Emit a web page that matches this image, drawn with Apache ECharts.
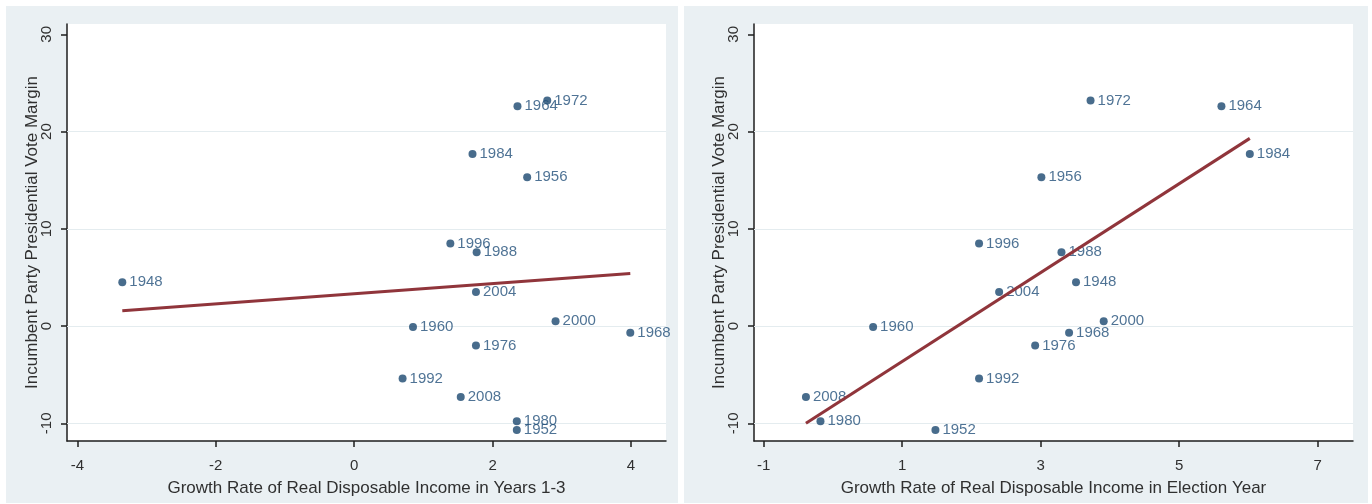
<!DOCTYPE html>
<html><head><meta charset="utf-8">
<script src="https://cdn.jsdelivr.net/npm/echarts@6/dist/echarts.min.js"></script>
<style>
html,body{margin:0;padding:0;background:#fff;width:1372px;height:504px;overflow:hidden;}
.panel{position:absolute;top:6px;height:497px;background:#eaf0f3;}
#p1{left:6px;width:672px;}
#p2{left:684px;width:684px;}
</style></head><body>
<div id="p1" class="panel"></div><div id="p2" class="panel"></div>
<script>
const years = [1948,1952,1956,1960,1964,1968,1972,1976,1980,1984,1988,1992,1996,2000,2004,2008];
const voteMargin = [4.5,-10.7,15.3,-0.1,22.6,-0.7,23.2,-2.0,-9.8,17.7,7.6,-5.4,8.5,0.5,3.5,-7.3];
const incomeYears13 = [-3.35,2.35,2.50,0.85,2.36,3.99,2.79,1.76,2.35,1.71,1.77,0.70,1.39,2.91,1.76,1.54];
const incomeElectionYear = [3.51,1.48,3.01,0.58,5.61,3.41,3.72,2.92,-0.18,6.02,3.30,2.11,2.11,3.91,2.40,-0.39];
const yTicks = [-10,0,10,20,30];
const yGridValues = [-10,0,10,20];
const xTicksLeft = [-4,-2,0,2,4];
const xTicksRight = [-1,1,3,5,7];
const yTitle = 'Incumbent Party Presidential Vote Margin';
const xTitleLeft = 'Growth Rate of Real Disposable Income in Years 1-3';
const xTitleRight = 'Growth Rate of Real Disposable Income in Election Year';

const FONT = '"Liberation Sans", Arial, sans-serif';
const NAVY = '#1a476f';
const MAROON = '#90353b';
const AXIS = '#1e1e1e';
const TEXT = '#303030';

function olsLine(xs, ys) {
  const n = xs.length;
  const mx = xs.reduce((a,b)=>a+b,0)/n, my = ys.reduce((a,b)=>a+b,0)/n;
  let sxy = 0, sxx = 0;
  for (let i=0;i<n;i++){ sxy += (xs[i]-mx)*(ys[i]-my); sxx += (xs[i]-mx)*(xs[i]-mx); }
  const b = sxy/sxx, a = my - b*mx;
  const x0 = Math.min(...xs), x1 = Math.max(...xs);
  return [[x0, a+b*x0],[x1, a+b*x1]];
}

function makeOption(xs, xTicks, xMin, xMax, gridLeft, xTitle) {
  return {
    animation: false,
    textStyle: {fontFamily: FONT},
    grid: {left: gridLeft, top: 18, width: 599, height: 417, show: true,
           backgroundColor: '#ffffff', borderWidth: 0},
    xAxis: {
      type: 'value', min: xMin, max: xMax,
      splitLine: {show: false},
      axisLine: {show: true, onZero: false, lineStyle: {color: AXIS, width: 1.5}},
      axisTick: {show: true, length: 6, customValues: xTicks, lineStyle: {color: AXIS, width: 1.5}},
      axisLabel: {customValues: xTicks, fontSize: 15, color: TEXT, margin: 17, fontFamily: FONT},
      name: xTitle, nameLocation: 'middle', nameGap: 39, nameMoveOverlap: false,
      nameTextStyle: {fontSize: 17, color: TEXT, fontFamily: FONT}
    },
    yAxis: {
      type: 'value', min: -11.82, max: 31.06,
      splitLine: {show: false},
      axisLine: {show: true, onZero: false, lineStyle: {color: AXIS, width: 1.5}},
      axisTick: {show: true, length: 6, customValues: yTicks, lineStyle: {color: AXIS, width: 1.5}},
      axisLabel: {customValues: yTicks, rotate: 90, fontSize: 15, color: TEXT, margin: 13, fontFamily: FONT},
      name: yTitle, nameLocation: 'middle', nameGap: 26, nameMoveOverlap: false,
      nameTextStyle: {fontSize: 17, color: TEXT, fontFamily: FONT}
    },
    series: [
      {
        type: 'scatter', data: [], z: 1, silent: true,
        markLine: {
          z: 1, silent: true, symbol: ['none','none'], label: {show: false},
          lineStyle: {color: '#e4ecef', width: 1.2, type: 'solid'},
          emphasis: {disabled: true},
          data: yGridValues.map(v => ({yAxis: v}))
        }
      },
      {
        type: 'scatter', z: 2,
        data: xs.map((x,i) => [x, voteMargin[i]]),
        symbol: 'circle', symbolSize: 8,
        itemStyle: {color: NAVY},
        label: {
          show: true, position: 'right', distance: 3,
          formatter: p => String(years[p.dataIndex]),
          color: '#23507a', fontSize: 15, fontFamily: FONT
        }
      },
      {
        type: 'line', z: 3,
        data: olsLine(xs, voteMargin),
        showSymbol: false, symbol: 'none',
        lineStyle: {color: MAROON, width: 3}
      }
    ]
  };
}

const c1 = echarts.init(document.getElementById('p1'), null, {renderer: 'canvas'});
c1.setOption(makeOption(incomeYears13, xTicksLeft, -4.149, 4.506, 61, xTitleLeft));
const c2 = echarts.init(document.getElementById('p2'), null, {renderer: 'canvas'});
c2.setOption(makeOption(incomeElectionYear, xTicksRight, -1.140, 7.51, 70, xTitleRight));
</script>
</body></html>
